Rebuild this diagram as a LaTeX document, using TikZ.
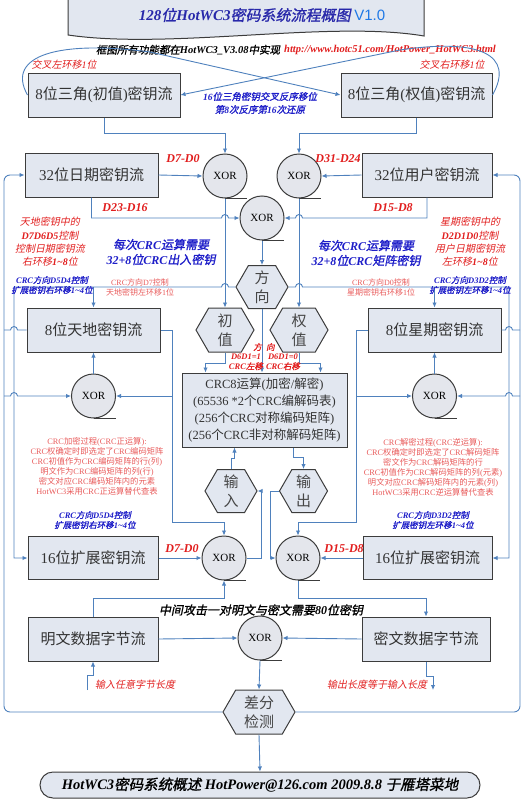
\documentclass[tikz,border=0pt]{standalone}
\usepackage{fontspec}
\setmainfont{Liberation Serif}
\setsansfont{Liberation Sans}
\newfontfamily\cjkfont{Noto Sans CJK SC}[BoldFont={Noto Sans CJK SC},BoldFeatures={FakeBold=1.2},ItalicFont={Noto Sans CJK SC},ItalicFeatures={FakeSlant=0.2},BoldItalicFont={Noto Sans CJK SC},BoldItalicFeatures={FakeBold=1.2,FakeSlant=0.2}]
% CJK letters in Noto, the rest in Liberation Serif
\XeTeXinterchartokenstate=1
\newXeTeXintercharclass\cjkcls
\newcount\cjkcnt
\def\setcls#1#2#3{\cjkcnt=#1 \loop\XeTeXcharclass\cjkcnt=#3 \ifnum\cjkcnt<#2 \advance\cjkcnt by 1 \repeat}
\setcls{32}{"7E}{0}
\setcls{"3000}{"303F}{\cjkcls}
\setcls{"4E00}{"9FFF}{\cjkcls}
\setcls{"FF00}{"FFEF}{\cjkcls}
\XeTeXinterchartoks 0 \cjkcls = {\cjkfont}
\XeTeXinterchartoks 4095 \cjkcls = {\cjkfont}
\XeTeXinterchartoks \cjkcls 0 = {\rmfamily}
\XeTeXinterchartoks \cjkcls 4095 = {\rmfamily}
\usepackage{tikz}
\usetikzlibrary{arrows.meta,positioning,shapes.symbols,calc}
\definecolor{conn}{RGB}{79,129,189}
\definecolor{edge}{RGB}{60,60,60}
\definecolor{boxfill}{RGB}{226,231,240}
\definecolor{xorfill}{RGB}{228,230,236}
\definecolor{ttlblue}{RGB}{40,40,170}
\definecolor{verblue}{RGB}{30,120,230}
\definecolor{redtxt}{RGB}{225,30,30}
\definecolor{pinktxt}{RGB}{232,90,90}
\definecolor{bluetxt}{RGB}{30,30,200}
\definecolor{hextxt}{RGB}{70,70,70}
\tikzset{
  keybox/.style={draw=edge, fill=boxfill, line width=1pt, minimum height=44pt, inner sep=2pt, text=black!80, font=\fontsize{15}{18}\selectfont},
  xorn/.style={circle, draw=edge, fill=xorfill, line width=1pt, minimum size=44pt, inner sep=0pt, font=\fontsize{11}{13}\selectfont},
  hexn/.style={signal, signal to=east and west, signal pointer angle=120, draw=edge, fill=boxfill, line width=1pt, minimum width=58pt, minimum height=44pt, inner sep=0pt, align=center, text=hextxt, font=\fontsize{15}{19}\selectfont},
  wire/.style={draw=conn, line width=0.9pt},
  flow/.style={wire, -{Latex[length=5pt,width=4.5pt]}},
  tail/.style={draw=edge, line width=1pt},
  dlbl/.style={text=redtxt, font=\fontsize{12}{14}\selectfont\bfseries\itshape},
  rnote/.style={text=redtxt, align=center, font=\fontsize{10}{13.3}\selectfont\itshape},
  bnote/.style={text=bluetxt, align=center, font=\fontsize{12}{15}\selectfont\bfseries\itshape},
  bsmall/.style={text=bluetxt, align=center, font=\fontsize{8.5}{10}\selectfont\bfseries\itshape},
  psmall/.style={text=pinktxt, align=center, font=\fontsize{8}{10}\selectfont},
  pblock/.style={text=pinktxt, align=center, font=\fontsize{8.3}{10}\selectfont},
}

\begin{document}
\begin{tikzpicture}[x=1pt, y=-1pt]
  \useasboundingbox (0,0) rectangle (532,800);
  % title
  \path[draw=edge, fill=boxfill, line width=1pt] (68,-3) -- (68,35) .. controls (170,50) and (330,20) .. (424,36) -- (424,-3) -- cycle;
  \node[text=ttlblue, font=\fontsize{15}{18}\selectfont\bfseries\itshape] (title) at (262,15) {128位HotWC3密码系统流程概图 {\sffamily\mdseries\upshape\color{verblue}V1.0}};
  \node[font=\fontsize{10.5}{12}\selectfont\bfseries\itshape] (impl) at (188,50) {框图所有功能都在HotWC3\_V3.08中实现};
  \node[text=redtxt, font=\fontsize{10.5}{12}\selectfont\bfseries\itshape] (url) at (390,50) {http://www.hotc51.com/HotPower\_HotWC3.html};
  \node[rnote] (rotl) at (64,65) {交叉左环移1位};
  \node[rnote] (rotr) at (452,65) {交叉右环移1位};
  \node[bsmall, font=\fontsize{9.5}{13}\selectfont\bfseries\itshape] (swap) at (260,103) {16位三角密钥交叉反序移位\\第8次反序第16次还原};

  % key streams
  \node[keybox, minimum width=152pt] (ini) at (104,95) {8位三角(初值)密钥流};
  \node[keybox, minimum width=151pt] (wgt) at (416.5,95) {8位三角(权值)密钥流};
  \node[keybox, minimum width=133pt] (date) at (91.5,175) {32位日期密钥流};
  \node[keybox, minimum width=130pt] (user) at (427,175) {32位用户密钥流};
  \node[keybox, minimum width=133pt] (tiandi) at (93.5,330) {8位天地密钥流};
  \node[keybox, minimum width=133pt] (xingqi) at (434.5,330) {8位星期密钥流};
  \node[keybox, minimum width=130pt, minimum height=43pt] (extl) at (93,558) {16位扩展密钥流};
  \node[keybox, minimum width=129pt, minimum height=43pt] (extr) at (427.5,558) {16位扩展密钥流};
  \node[keybox, minimum width=130pt] (plain) at (93,639) {明文数据字节流};
  \node[keybox, minimum width=128pt] (cipher) at (426,639) {密文数据字节流};
  \node[keybox, minimum width=165pt, minimum height=74pt, align=center, font=\fontsize{12.5}{17}\selectfont] (crc) at (264.5,410)
    {CRC8运算(加密/解密)\\(65536 *2个CRC编解码表)\\(256个CRC对称编码矩阵)\\(256个CRC非对称解码矩阵)};

  % xor gates
  \node[xorn] (x1) at (225,176) {XOR};
  \node[xorn] (x2) at (299,176) {XOR};
  \node[xorn] (xc) at (262,218) {XOR};
  \node[xorn] (xl) at (93.5,396) {XOR};
  \node[xorn] (xr) at (434.5,396) {XOR};
  \node[xorn] (xbl) at (224,558) {XOR};
  \node[xorn] (xbr) at (298,558) {XOR};
  \node[xorn] (xbc) at (260,638) {XOR};
  \foreach \n in {x1,x2,xc,xl,xr,xbl,xbr,xbc}
    \draw[tail] (\n.south) -- ++(22,0);

  % hexagons
  \node[hexn, minimum width=52pt, minimum height=43pt] (dir) at (262,287) {方\\向};
  \node[hexn] (chu) at (225,330) {初\\值};
  \node[hexn] (quan) at (299,330) {权\\值};
  \node[hexn, minimum width=52pt, minimum height=43pt] (in) at (231,491) {输\\入};
  \node[hexn, minimum width=48pt, minimum height=43pt] (out) at (303.5,491) {输\\出};
  \node[hexn, minimum width=72pt] (diff) at (259,712) {差分\\检测};
  \node[draw=edge, fill=boxfill, line width=1pt, rounded corners=13pt, minimum width=440pt, minimum height=26pt, font=\fontsize{14.5}{16}\selectfont\bfseries\itshape] (foot) at (260,785)
    {HotWC3密码系统概述 HotPower@126.com 2009.8.8 于雁塔菜地};

  % tracks
  \coordinate (lout) at (4,0);
  \coordinate (lin) at (14,0);
  \coordinate (rin) at (509,0);
  \coordinate (rout) at (520,0);
  \coordinate (ltrk) at (172,0);
  \coordinate (rtrk) at (356,0);
  \coordinate (itrk) at (261,0);
  \coordinate (otrk) at (270,0);
  \coordinate (low) at (0,522);
  \coordinate (inp) at (87,690);
  \coordinate (outp) at (433,690);

  % crossed shift of the triangle keys
  \draw[flow] (ini.west) .. controls (5,55) and (60,40) .. (150,52) -- (wgt.west);
  \draw[flow] (wgt.east) .. controls (515,55) and (480,38) .. (400,50) -- (ini.east);

  \draw[flow] (ini.south) -- ++(0,16) -| (x1.north);
  \draw[flow] (wgt.south) -- ++(0,16) -| (x2.north);
  \draw[flow] (date.east) -- (x1.west);
  \draw[flow] (user.west) -- (x2.east);
  \draw[flow] (date.south) -- (date.south |- xc.west) -- ([xshift=-3.5pt]x1.south |- xc.west) arc[start angle=180,end angle=0,radius=3.5pt] -- (xc.west);
  \draw[flow] (user.south) -- (user.south |- xc.east) -- ([xshift=3.5pt]x2.south |- xc.east) arc[start angle=0,end angle=180,radius=3.5pt] -- (xc.east);
  \draw[flow] (x1.south) -- (x1.south |- chu.north);
  \draw[flow] (x2.south) -- (x2.south |- quan.north);
  \draw[flow] (xc.south) -- (xc.south |- dir.north);

  % direction control
  \draw[flow] (dir.west) -- ([xshift=3.5pt]x1.south |- dir.west) arc[start angle=0,end angle=180,radius=3.5pt] -- (lin |- dir.west) |- (extl.west);
  \draw[flow] (tiandi.north |- dir.west) -- (tiandi.north);
  \draw[flow] (dir.east) -- ([xshift=-3.5pt]x2.south |- dir.east) arc[start angle=180,end angle=0,radius=3.5pt] -- (rin |- dir.east) |- (extr.east);
  \draw[flow] (xingqi.north |- dir.east) -- (xingqi.north);
  \draw[flow] (dir.south) -- (dir.south |- crc.north);
  \draw[flow] (chu.south) -- ++(0,11) -| ([xshift=24pt]crc.north west);
  \draw[flow] (quan.south) -- ++(0,11) -| ([xshift=-27pt]crc.north east);

  % crc in and out
  \draw[flow] (in.north) -- ++(0,-11) -| ([xshift=53pt]crc.south west);
  \draw[flow] ([xshift=-54pt]crc.south east) -- ++(0,10) -| (out.north);
  \draw[flow] (xbl.east) -- (itrk |- xbl.east) -- (itrk |- in.east) -- (in.east);
  \draw[flow] (out.west) -- (otrk |- out.west) -- (otrk |- xbr.west) -- (xbr.west);

  % earth and week keys
  \draw[flow] (xl.north) -- (tiandi.south);
  \draw[flow] (xr.north) -- (xingqi.south);
  \draw[flow] (tiandi.east) -- (ltrk |- tiandi.east) -- (ltrk |- low) -| (xbl.north);
  \draw[flow] (ltrk |- xl.east) -- (xl.east);
  \draw[flow] (xingqi.west) -- (rtrk |- xingqi.west) -- (rtrk |- low) -| (xbr.north);
  \draw[flow] (rtrk |- xr.west) -- (xr.west);

  % data path
  \draw[flow] (extl.east) -- (xbl.west);
  \draw[flow] (extr.west) -- (xbr.east);
  \draw[flow] (plain.north) -- ++(0,-18) -| (xbl.south);
  \draw[flow] (xbr.south) -- ++(0,18) -| (cipher.north);
  \draw[flow] (plain.east) -- (xbc.west);
  \draw[flow] (cipher.west) -- (xbc.east);
  \draw[flow] (xbc.south) -- (diff.north);
  \draw[flow] (diff.south) -- (foot.north);
  \draw[flow] (inp) -- ++(0,-15) -| (plain.south);
  \draw[flow] (cipher.south) -- ++(0,15) -| (outp);

  % feedback of the difference check
  \draw[flow, rounded corners=6pt] (diff.west) -- (lout |- diff.west) -- (lout |- date.west) -- (date.west);
  \draw[wire] (lout |- tiandi.west) -- ([xshift=-3.5pt]lin |- tiandi.west) arc[start angle=180,end angle=0,radius=3.5pt] -- (tiandi.west);
  \draw[flow] (lout |- xl.west) -- ([xshift=-3.5pt]lin |- xl.west) arc[start angle=180,end angle=0,radius=3.5pt] -- (xl.west);
  \draw[flow, rounded corners=6pt] (diff.east) -- (rout |- diff.east) -- (rout |- user.east) -- (user.east);
  \draw[wire] (rout |- xingqi.east) -- ([xshift=3.5pt]rin |- xingqi.east) arc[start angle=0,end angle=180,radius=3.5pt] -- (xingqi.east);
  \draw[flow] (rout |- xr.east) -- ([xshift=3.5pt]rin |- xr.east) arc[start angle=0,end angle=180,radius=3.5pt] -- (xr.east);

  % labels
  \node[dlbl] (d70) at (183,159) {D7-D0};
  \node[dlbl] (d3124) at (338,159) {D31-D24};
  \node[dlbl] (d2316) at (125,208) {D23-D16};
  \node[dlbl] (d158) at (393,208) {D15-D8};
  \node[rnote] (tdnote) at (50,242) {天地密钥中的\\\textbf{D7D6D5}控制\\控制日期密钥流\\右环移\textbf{1\textasciitilde8}位};
  \node[rnote] (xqnote) at (470,242) {星期密钥中的\\\textbf{D2D1D0}控制\\用户日期密钥流\\左环移\textbf{1\textasciitilde8}位};
  \node[bnote] (needl) at (161,252) {每次CRC运算需要\\32+8位CRC出入密钥};
  \node[bnote] (needr) at (366,253) {每次CRC运算需要\\32+8位CRC矩阵密钥};
  \node[bsmall] (extlnote) at (52,285) {CRC方向D5D4控制\\扩展密钥右环移1\textasciitilde4位};
  \node[bsmall] (extrnote) at (470,285) {CRC方向D3D2控制\\扩展密钥左环移1\textasciitilde4位};
  \node[psmall] (tdctl) at (140,287) {CRC方向D7控制\\天地密钥左环移1位};
  \node[psmall] (xqctl) at (381,287) {CRC方向D0控制\\星期密钥右环移1位};
  \node[dlbl, font=\fontsize{8.5}{10}\selectfont\bfseries\itshape] (dirlbl) at (264,347) {方\ \ 向};
  \node[dlbl, align=center, font=\fontsize{8.5}{10}\selectfont\bfseries\itshape] (lshift) at (246,362) {D6D1=1\\CRC左移};
  \node[dlbl, align=center, font=\fontsize{8.5}{10}\selectfont\bfseries\itshape] (rshift) at (283,362) {D6D1=0\\CRC右移};
  \node[pblock] (encnote) at (97,466) {CRC加密过程(CRC正运算):\\CRC权确定时即选定了CRC编码矩阵\\CRC初值作为CRC编码矩阵的行(列)\\明文作为CRC编码矩阵的列(行)\\密文对应CRC编码矩阵内的元素\\HotWC3采用CRC正运算替代查表};
  \node[pblock] (decnote) at (433,467) {CRC解密过程(CRC逆运算):\\CRC权确定时即选定了CRC解码矩阵\\密文作为CRC解码矩阵的行\\CRC初值作为CRC解码矩阵的列(元素)\\明文对应CRC解码矩阵内的元素(列)\\HotWC3采用CRC逆运算替代查表};
  \node[bsmall] (extlnote2) at (95,520) {CRC方向D5D4控制\\扩展密钥右环移1\textasciitilde4位};
  \node[bsmall] (extrnote2) at (433,520) {CRC方向D3D2控制\\扩展密钥左环移1\textasciitilde4位};
  \node[dlbl] (d70b) at (182,549) {D7-D0};
  \node[dlbl] (d158b) at (344,549) {D15-D8};
  \node[font=\fontsize{12}{14}\selectfont\bfseries\itshape] (mitm) at (261,610) {中间攻击一对明文与密文需要80位密钥};
  \node[rnote] (inlen) at (135,685) {输入任意字节长度};
  \node[rnote] (outlen) at (377,685) {输出长度等于输入长度};
\end{tikzpicture}
\end{document}
